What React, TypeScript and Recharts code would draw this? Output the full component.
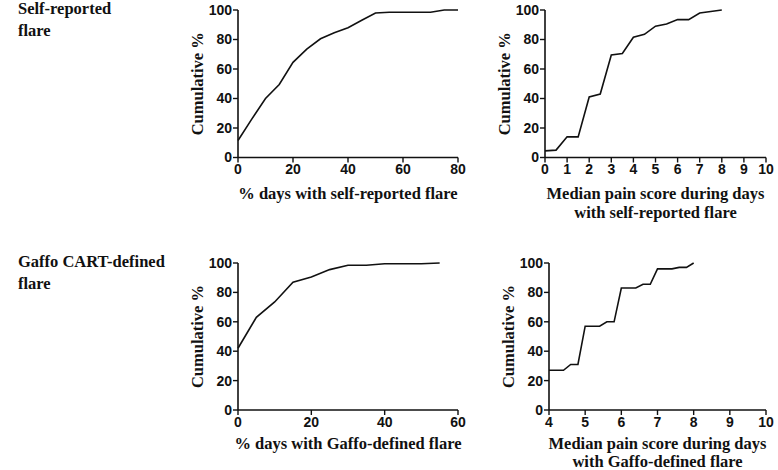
import React from 'react';
import { LineChart, Line, XAxis, YAxis } from 'recharts';

// ---- Data ----
const selfPctX = [0, 5, 10, 15, 20, 25, 30, 35, 40, 45, 50, 55, 60, 65, 70, 75, 80];
const selfPctY = [11.5, 26, 40, 49.5, 64.5, 73.5, 80.5, 84.5, 88, 93, 98, 98.5, 98.5, 98.5, 98.5, 100, 100];

const selfPainX = [0, 0.5, 1, 1.5, 2, 2.5, 3, 3.5, 4, 4.5, 5, 5.5, 6, 6.5, 7, 7.5, 8];
const selfPainY = [4.5, 5, 14, 14, 41, 43, 69.5, 70.5, 81.5, 83.5, 89, 90.5, 93.5, 93.5, 98, 99, 100];

const gaffoPctX = [0, 5, 10, 15, 20, 25, 30, 35, 40, 45, 50, 55];
const gaffoPctY = [42, 63, 73.5, 87, 90.5, 95.5, 98.5, 98.5, 99.5, 99.5, 99.5, 100];

const gaffoPainX = [4.0, 4.2, 4.4, 4.6, 4.8, 5.0, 5.2, 5.4, 5.6, 5.8, 6.0, 6.2, 6.4, 6.6, 6.8, 7.0, 7.2, 7.4, 7.6, 7.8, 8.0];
const gaffoPainY = [27, 27, 27, 31, 31, 57, 57, 57, 60, 60, 83, 83, 83, 85.5, 85.5, 96, 96, 96, 97, 97, 100];

const yTicks = [0, 20, 40, 60, 80, 100];
const pctTicksSelf = [0, 20, 40, 60, 80];
const pctTicksGaffo = [0, 20, 40, 60];
const painTicksSelf = [0, 1, 2, 3, 4, 5, 6, 7, 8, 9, 10];
const painTicksGaffo = [4, 5, 6, 7, 8, 9, 10];

const yLabel = 'Cumulative %';
const rowTitles = [['Self-reported', 'flare'], ['Gaffo CART-defined', 'flare']];
const xLabels = [
  ['% days with self-reported flare'],
  ['Median pain score during days', 'with self-reported flare'],
  ['% days with Gaffo-defined flare'],
  ['Median pain score during days', 'with Gaffo-defined flare'],
];

const zip = (xs: number[], ys: number[]) => xs.map((x, i) => ({ x, y: ys[i] }));

const SERIF = '"Liberation Serif", "Times New Roman", serif';
const SANS = '"Liberation Sans", Arial, sans-serif';
const INK = '#111';

const YW = 70;
const XH = 70;
const MT = 10;
const MR = 20;

type PanelProps = {
  plotLeft: number;
  plotTop: number;
  plotW: number;
  plotH: number;
  data: { x: number; y: number }[];
  xDomain: [number, number];
  xTicks: number[];
  xLabel: string[];
  labelOffset: number;
  lineGap: number;
};

function Panel({ plotLeft, plotTop, plotW, plotH, data, xDomain, xTicks, xLabel, labelOffset, lineGap }: PanelProps) {
  const width = YW + plotW + MR;
  const height = MT + plotH + XH;
  const tickStyle = { fill: INK, fontSize: 14, fontWeight: 700, fontFamily: SANS };
  const axisLine = { stroke: INK, strokeWidth: 1.6 };
  const tickLine = { stroke: INK, strokeWidth: 1.4 };
  return (
    <div style={{ position: 'absolute', left: plotLeft - YW, top: plotTop - MT }}>
      <LineChart width={width} height={height} data={data} margin={{ top: MT, right: MR, left: 0, bottom: 0 }}>
        <XAxis
          type="number"
          dataKey="x"
          domain={xDomain}
          ticks={xTicks}
          interval={0}
          height={XH}
          axisLine={axisLine}
          tickLine={tickLine}
          tickSize={5}
          tickMargin={2}
          tick={tickStyle}
          label={{
            content: () => (
              <text
                x={YW + plotW / 2}
                y={MT + plotH + labelOffset}
                textAnchor="middle"
                dominantBaseline="central"
                fill={INK}
                style={{ fontFamily: SERIF, fontWeight: 700, fontSize: 16.5 }}
              >
                {xLabel.map((line, i) => (
                  <tspan key={i} x={YW + plotW / 2} dy={i === 0 ? 0 : lineGap}>
                    {line}
                  </tspan>
                ))}
              </text>
            ),
          }}
        />
        <YAxis
          type="number"
          domain={[0, 100]}
          ticks={yTicks}
          interval={0}
          width={YW}
          axisLine={axisLine}
          tickLine={tickLine}
          tickSize={5}
          tickMargin={1}
          tick={tickStyle}
          label={{
            content: () => (
              <text
                x={YW - 41}
                y={MT + plotH / 2}
                transform={`rotate(-90, ${YW - 41}, ${MT + plotH / 2})`}
                textAnchor="middle"
                dominantBaseline="central"
                fill={INK}
                style={{ fontFamily: SERIF, fontWeight: 700, fontSize: 16.5 }}
              >
                {yLabel}
              </text>
            ),
          }}
        />
        <Line
          type="linear"
          dataKey="y"
          stroke={INK}
          strokeWidth={1.6}
          dot={false}
          activeDot={false}
          isAnimationActive={false}
        />
      </LineChart>
    </div>
  );
}

function Title({ lines, baseline }: { lines: string[]; baseline: number }) {
  return (
    <svg
      width={190}
      height={50}
      style={{ position: 'absolute', left: 0, top: baseline - 16, overflow: 'visible' }}
    >
      <text fill={INK} style={{ fontFamily: SERIF, fontWeight: 700, fontSize: 16.5 }}>
        {lines.map((l, i) => (
          <tspan key={i} x={18} y={16 + i * 22}>
            {l}
          </tspan>
        ))}
      </text>
    </svg>
  );
}

export default function App() {
  return (
    <div style={{ position: 'absolute', left: 0, top: 0, width: 778, height: 470, background: '#fff', overflow: 'hidden' }}>
      <Title lines={rowTitles[0]} baseline={14} />
      <Title lines={rowTitles[1]} baseline={267} />
      <Panel
        plotLeft={238}
        plotTop={9.5}
        plotW={220}
        plotH={147.5}
        data={zip(selfPctX, selfPctY)}
        xDomain={[0, 80]}
        xTicks={pctTicksSelf}
        xLabel={xLabels[0]}
        labelOffset={35}
        lineGap={19}
      />
      <Panel
        plotLeft={545}
        plotTop={9.5}
        plotW={221}
        plotH={147.5}
        data={zip(selfPainX, selfPainY)}
        xDomain={[0, 10]}
        xTicks={painTicksSelf}
        xLabel={xLabels[1]}
        labelOffset={35}
        lineGap={19}
      />
      <Panel
        plotLeft={238}
        plotTop={263}
        plotW={220}
        plotH={147}
        data={zip(gaffoPctX, gaffoPctY)}
        xDomain={[0, 60]}
        xTicks={pctTicksGaffo}
        xLabel={xLabels[2]}
        labelOffset={33}
        lineGap={18}
      />
      <Panel
        plotLeft={549}
        plotTop={263}
        plotW={217}
        plotH={147}
        data={zip(gaffoPainX, gaffoPainY)}
        xDomain={[4, 10]}
        xTicks={painTicksGaffo}
        xLabel={xLabels[3]}
        labelOffset={33}
        lineGap={18}
      />
    </div>
  );
}
